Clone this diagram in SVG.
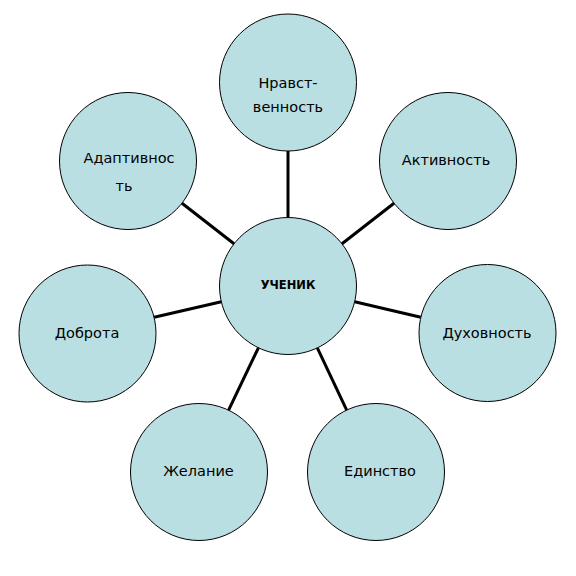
<svg xmlns="http://www.w3.org/2000/svg" width="576" height="576" viewBox="0 0 576 576">
<style>
.node circle{fill:#badfe2;stroke:#000;stroke-width:1}
.node text{font-family:"DejaVu Sans","Liberation Sans",sans-serif;font-size:14.5px;fill:#000;text-anchor:middle}
.node text.b{font-weight:bold;font-size:11.5px}
#connectors line{stroke:#000;stroke-width:3}
</style>
<rect width="576" height="576" fill="#fff"/>
<g id="connectors">
<line x1="288" y1="151" x2="288" y2="217.5"/>
<line x1="342" y1="243.8" x2="394" y2="203.2"/>
<line x1="354.7" y1="301.7" x2="420.8" y2="317.3"/>
<line x1="317.3" y1="347.9" x2="346.7" y2="410.1"/>
<line x1="258.4" y1="347.8" x2="228.6" y2="410.2"/>
<line x1="221.3" y1="301.8" x2="154.2" y2="317.3"/>
<line x1="234" y1="243.8" x2="182" y2="203.2"/>
</g>
<g id="node-center" class="node"><circle cx="288" cy="286" r="68.5"/><text class="b" x="288" y="289">УЧЕНИК</text></g>
<g id="node-nravstvennost" class="node"><circle cx="288" cy="82.5" r="68.5"/><text x="288" y="88">Нравст-</text><text x="288" y="112">венность</text></g>
<g id="node-aktivnost" class="node"><circle cx="448" cy="161" r="68.5"/><text x="446" y="165">Активность</text></g>
<g id="node-dukhovnost" class="node"><circle cx="487.5" cy="333" r="68.5"/><text x="487" y="338">Духовность</text></g>
<g id="node-edinstvo" class="node"><circle cx="376" cy="472" r="68.5"/><text x="380" y="476">Единство</text></g>
<g id="node-zhelanie" class="node"><circle cx="199" cy="472" r="68.5"/><text x="198.5" y="476">Желание</text></g>
<g id="node-dobrota" class="node"><circle cx="87.5" cy="333.5" r="68.5"/><text x="87" y="338">Доброта</text></g>
<g id="node-adaptivnost" class="node"><circle cx="128" cy="161" r="68.5"/><text x="129" y="163">Адаптивнос</text><text x="124" y="191">ть</text></g>
</svg>
